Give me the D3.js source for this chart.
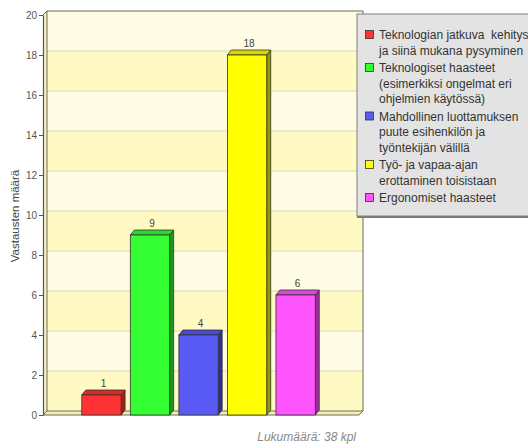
<!DOCTYPE html>
<html>
<head>
<meta charset="utf-8">
<script src="https://cdn.jsdelivr.net/npm/d3@7"></script>
<style>
  html, body { margin: 0; padding: 0; background: #fff; }
  svg { display: block; font-family: "Liberation Sans", Arial, sans-serif; }
  .pre { white-space: pre; }
</style>
</head>
<body>
<svg id="chart" width="528" height="446"></svg>
<script>
// Vastaukset: haasteet etätyössä
const categories = [
  "Teknologian jatkuva  kehitys ja siinä mukana pysyminen",
  "Teknologiset haasteet (esimerkiksi ongelmat eri ohjelmien käytössä)",
  "Mahdollinen luottamuksen puute esihenkilön ja työntekijän välillä",
  "Työ- ja vapaa-ajan erottaminen toisistaan",
  "Ergonomiset haasteet"
];
const legendLines = [
  ["Teknologian jatkuva  kehitys", "ja siinä mukana pysyminen"],
  ["Teknologiset haasteet", "(esimerkiksi ongelmat eri", "ohjelmien käytössä)"],
  ["Mahdollinen luottamuksen", "puute esihenkilön ja", "työntekijän välillä"],
  ["Työ- ja vapaa-ajan", "erottaminen toisistaan"],
  ["Ergonomiset haasteet"]
];
const values = [1, 9, 4, 18, 6];
const yTicks = [0, 2, 4, 6, 8, 10, 12, 14, 16, 18, 20];
const yTitle = "Vastausten määrä";
const footer = "Lukumäärä: 38 kpl";

const frontColors = ["#ff3333", "#33ff33", "#5a5af5", "#ffff00", "#ff55ff"];
const topColors   = ["#d92a2a", "#2ad92a", "#4848d0", "#d9d900", "#d948d9"];
const sideColors  = ["#a41c1c", "#1c9a1c", "#2e2e96", "#9a9a00", "#962e96"];

const svg = d3.select("#chart");

// plot geometry (front plane) and 3D depth offset
const plotL = 43, plotR = 359, plotT = 15, plotB = 415;
const dx = 4, dy = -4;      // wall depth
const bdx = 4, bdy = -5;    // bar depth

const y = d3.scaleLinear().domain([0, 20]).range([plotB, plotT]);
const x = d3.scaleBand().domain(categories).range([plotL, plotR])
  .paddingInner(0.19).paddingOuter(0.85).align(0.47);

// back wall with alternating bands
const wall = svg.append("g");
const bands = d3.range(0, 20, 2);
wall.selectAll("rect.band").data(bands).join("rect")
  .attr("class", "band")
  .attr("x", plotL + dx)
  .attr("y", d => y(d + 2) + dy)
  .attr("width", plotR - plotL)
  .attr("height", d => y(d) - y(d + 2))
  .attr("fill", d => (d / 2) % 2 === 0 ? "#fffac4" : "#fffce6");

// left side wall
wall.append("path")
  .attr("d", `M${plotL},${y(20)} L${plotL + dx},${y(20) + dy} L${plotL + dx},${y(0) + dy} L${plotL},${y(0)} Z`)
  .attr("fill", "#f6f1c4");

// floor
wall.append("path")
  .attr("d", `M${plotL},${y(0)} L${plotL + dx},${y(0) + dy} L${plotR + dx},${y(0) + dy} L${plotR},${y(0)} Z`)
  .attr("fill", "#f2eeb8");

// gridlines on the back wall
wall.selectAll("line.grid").data(yTicks.filter(d => d > 0 && d < 20)).join("line")
  .attr("class", "grid")
  .attr("x1", plotL + dx).attr("x2", plotR + dx)
  .attr("y1", d => y(d) + dy).attr("y2", d => y(d) + dy)
  .attr("stroke", "#d9d6b4").attr("stroke-width", 1.2);

// wall edges
wall.append("path")
  .attr("d", `M${plotL},${y(20)} L${plotL + dx},${y(20) + dy} L${plotR + dx},${y(20) + dy} L${plotR + dx},${y(0) + dy} L${plotR},${y(0)}` +
             ` M${plotL + dx},${y(20) + dy} L${plotL + dx},${y(0) + dy} L${plotR + dx},${y(0) + dy}` +
             ` M${plotL},${y(0)} L${plotL + dx},${y(0) + dy}`)
  .attr("fill", "none").attr("stroke", "#6a6a5a").attr("stroke-width", 1);

// floor front edge
wall.append("line")
  .attr("x1", plotL).attr("x2", plotR).attr("y1", y(0)).attr("y2", y(0))
  .attr("stroke", "#6a6a5a").attr("stroke-width", 1.2);

// y axis
const yAxis = svg.append("g")
  .attr("transform", `translate(${plotL},0)`)
  .call(d3.axisLeft(y).tickValues(yTicks).tickSize(4).tickPadding(2).tickSizeOuter(0));
yAxis.select(".domain").attr("stroke", "#555").attr("stroke-width", 1.2);
yAxis.selectAll(".tick line").attr("stroke", "#555");
yAxis.selectAll(".tick text")
  .attr("fill", "#555").attr("font-size", 10)
  .attr("font-family", "'Liberation Sans', Arial, sans-serif");

// y axis title
svg.append("text")
  .attr("transform", `translate(16,${216}) rotate(-90)`)
  .attr("text-anchor", "middle")
  .attr("dominant-baseline", "middle")
  .attr("font-size", 11.5)
  .attr("fill", "#444")
  .text(yTitle);

// 3D bars
const bars = svg.append("g").selectAll("g").data(values).join("g");
const bw = x.bandwidth();
bars.each(function (v, i) {
  const g = d3.select(this);
  const x0 = x(categories[i]), x1 = x0 + bw;
  const yt = y(v), yb = y(0);
  // side face
  g.append("path")
    .attr("d", `M${x1},${yt} L${x1 + bdx},${yt + bdy} L${x1 + bdx},${yb + bdy} L${x1},${yb} Z`)
    .attr("fill", sideColors[i]).attr("stroke", "#333").attr("stroke-width", 0.8)
    .attr("stroke-linejoin", "round");
  // top face
  g.append("path")
    .attr("d", `M${x0},${yt} L${x0 + bdx},${yt + bdy} L${x1 + bdx},${yt + bdy} L${x1},${yt} Z`)
    .attr("fill", topColors[i]).attr("stroke", "#333").attr("stroke-width", 0.8)
    .attr("stroke-linejoin", "round");
  // front face
  g.append("rect")
    .attr("x", x0).attr("y", yt).attr("width", bw).attr("height", yb - yt)
    .attr("fill", frontColors[i]).attr("stroke", "#333").attr("stroke-width", 0.8);
  // value label
  g.append("text")
    .attr("x", x0 + bw / 2 + bdx / 2)
    .attr("y", yt + bdy - 3)
    .attr("text-anchor", "middle")
    .attr("font-size", 10)
    .attr("fill", "#444")
    .text(v);
});

// legend
const lg = svg.append("g");
const lgX = 357, lgY = 14, lgW = 180, lgH = 202;
lg.append("rect")
  .attr("x", lgX).attr("y", lgY + 2).attr("width", lgW).attr("height", lgH)
  .attr("fill", "#7a7a7a");
lg.append("rect")
  .attr("x", lgX).attr("y", lgY).attr("width", lgW).attr("height", lgH)
  .attr("fill", "#e3e3e3").attr("stroke", "#808080").attr("stroke-width", 1);

const lineH = 15.5, entryGap = 17.5;
let cy = 35;
legendLines.forEach((lines, i) => {
  lg.append("rect")
    .attr("x", 365.5).attr("y", cy - 4.5).attr("width", 8).attr("height", 8)
    .attr("fill", frontColors[i]).attr("stroke", "#333").attr("stroke-width", 0.8);
  lines.forEach((t, j) => {
    lg.append("text")
      .attr("class", "pre")
      .attr("x", 379).attr("y", cy + j * lineH)
      .attr("dominant-baseline", "central")
      .attr("font-size", 12)
      .attr("fill", "#333")
      .text(t);
  });
  cy += (lines.length - 1) * lineH + entryGap;
});

// footer
svg.append("text")
  .attr("x", 356).attr("y", 441)
  .attr("text-anchor", "end")
  .attr("font-size", 12)
  .attr("font-style", "italic")
  .attr("fill", "#888")
  .text(footer);
</script>
</body>
</html>
